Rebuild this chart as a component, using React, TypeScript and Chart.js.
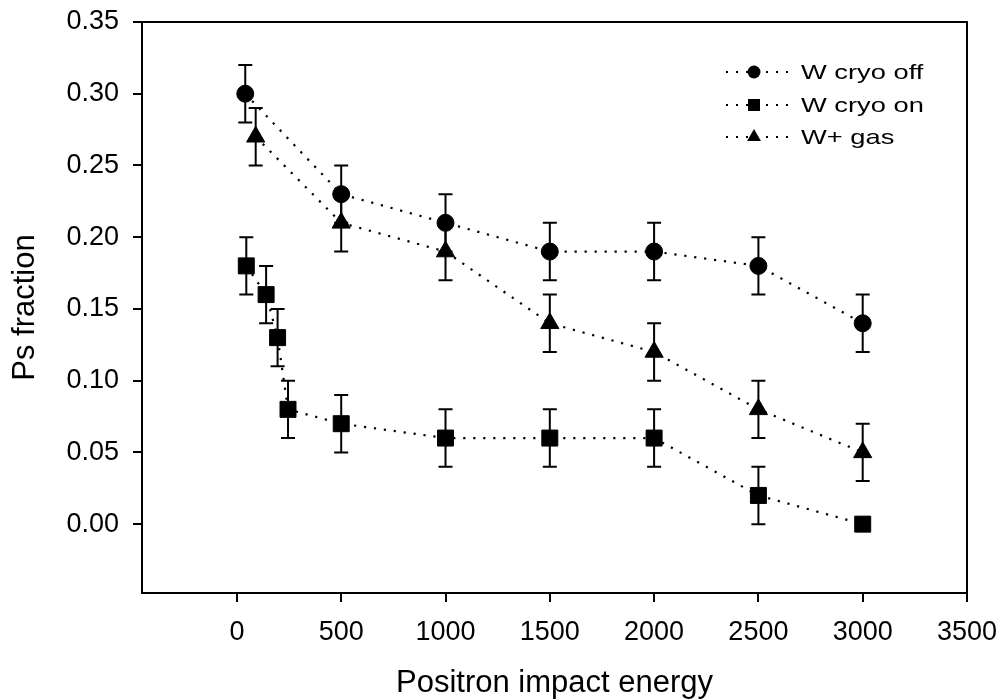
import React, { useEffect, useRef } from "react";
import { Chart, registerables } from "chart.js";

Chart.register(...registerables);

const FONT = '"Liberation Sans", Arial, Helvetica, sans-serif';

// ---- data ----
const seriesNames = ["W cryo off", "W cryo on", "W+ gas"];

const xCryoOff = [40, 500, 1000, 1500, 2000, 2500, 3000];
const yCryoOff = [0.30, 0.23, 0.21, 0.19, 0.19, 0.18, 0.14];
const errCryoOff = [0.02, 0.02, 0.02, 0.02, 0.02, 0.02, 0.02];

const xCryoOn = [45, 140, 195, 245, 500, 1000, 1500, 2000, 2500, 3000];
const yCryoOn = [0.18, 0.16, 0.13, 0.08, 0.07, 0.06, 0.06, 0.06, 0.02, 0.0];
const errCryoOn = [0.02, 0.02, 0.02, 0.02, 0.02, 0.02, 0.02, 0.02, 0.02, 0];

const xGas = [90, 500, 1000, 1500, 2000, 2500, 3000];
const yGas = [0.27, 0.21, 0.19, 0.14, 0.12, 0.08, 0.05];
const errGas = [0.02, 0.02, 0.02, 0.02, 0.02, 0.02, 0.02];

const xTicks = [0, 500, 1000, 1500, 2000, 2500, 3000, 3500];
const yTicks = [0, 0.05, 0.1, 0.15, 0.2, 0.25, 0.3, 0.35];

const xTitle = "Positron impact energy";
const yTitle = "Ps fraction";

const errorsList = [errCryoOff, errCryoOn, errGas];
const styles = [
  { pointStyle: "circle", radius: 8.5, legendRadius: 6.5 },
  { pointStyle: "rect", radius: 11.3, legendRadius: 8.5 },
  { pointStyle: "triangle", radius: 10.5, legendRadius: 8 },
];

function drawMarker(ctx: CanvasRenderingContext2D, style: string, r: number, x: number, y: number) {
  ctx.beginPath();
  if (style === "circle") {
    ctx.arc(x, y, r, 0, Math.PI * 2);
  } else if (style === "rect") {
    const s = r * Math.SQRT1_2;
    ctx.rect(x - s, y - s, 2 * s, 2 * s);
  } else {
    ctx.moveTo(x, y - r);
    ctx.lineTo(x + r * 0.866, y + r * 0.5);
    ctx.lineTo(x - r * 0.866, y + r * 0.5);
    ctx.closePath();
  }
  ctx.fill();
}

const errorBarPlugin = {
  id: "errorBars",
  afterDatasetsDraw(chart: any) {
    const ctx = chart.ctx;
    const xs = chart.scales.x;
    const ys = chart.scales.y;
    ctx.save();
    ctx.strokeStyle = "#000";
    ctx.lineWidth = 2;
    ctx.setLineDash([]);
    chart.data.datasets.forEach((ds: any, di: number) => {
      const errs = errorsList[di];
      ds.data.forEach((p: any, i: number) => {
        const e = errs[i];
        if (!e) return;
        const px = xs.getPixelForValue(p.x);
        const y1 = ys.getPixelForValue(p.y + e);
        const y2 = ys.getPixelForValue(p.y - e);
        ctx.beginPath();
        ctx.moveTo(px, y1);
        ctx.lineTo(px, y2);
        ctx.moveTo(px - 7, y1);
        ctx.lineTo(px + 7, y1);
        ctx.moveTo(px - 7, y2);
        ctx.lineTo(px + 7, y2);
        ctx.stroke();
      });
    });
    ctx.restore();
  },
};

const framePlugin = {
  id: "frameTitlesLegend",
  afterDraw(chart: any) {
    const ctx = chart.ctx;
    const a = chart.chartArea;
    ctx.save();
    ctx.strokeStyle = "#000";
    ctx.lineWidth = 2;
    ctx.beginPath();
    ctx.moveTo(a.left, a.top);
    ctx.lineTo(a.right, a.top);
    ctx.lineTo(a.right, a.bottom);
    ctx.stroke();

    ctx.fillStyle = "#000";
    ctx.font = `31px ${FONT}`;
    ctx.textAlign = "center";
    ctx.textBaseline = "middle";
    ctx.fillText(xTitle, (a.left + a.right) / 2, 683);
    ctx.save();
    ctx.translate(25, (a.top + a.bottom) / 2);
    ctx.rotate(-Math.PI / 2);
    ctx.fillText(yTitle, 0, 0);
    ctx.restore();

    const rowsY = [a.top + 50, a.top + 83, a.top + 115];
    const lx0 = a.right - 241;
    const lx1 = a.right - 178;
    const mx = a.right - 213;
    const tx = a.right - 166;
    seriesNames.forEach((name, i) => {
      const y = rowsY[i];
      ctx.save();
      ctx.strokeStyle = "#000";
      ctx.lineWidth = 2;
      ctx.setLineDash([2, 8]);
      ctx.beginPath();
      ctx.moveTo(lx0, y);
      ctx.lineTo(lx1, y);
      ctx.stroke();
      ctx.restore();
      ctx.save();
      ctx.fillStyle = "#000";
      drawMarker(ctx, styles[i].pointStyle, styles[i].legendRadius, mx, y);
      ctx.restore();
      ctx.save();
      ctx.translate(tx, y);
      ctx.scale(1.3, 1);
      ctx.font = `21px ${FONT}`;
      ctx.textAlign = "left";
      ctx.textBaseline = "middle";
      ctx.fillStyle = "#000";
      ctx.fillText(name, 0, 1);
      ctx.restore();
    });
    ctx.restore();
  },
};

function makeDataset(label: string, xs: number[], ys: number[], i: number) {
  return {
    label,
    data: xs.map((x, k) => ({ x, y: ys[k] })),
    borderColor: "#000",
    backgroundColor: "#000",
    borderWidth: 2.2,
    borderDash: [2.2, 7.8],
    fill: false,
    tension: 0,
    pointStyle: styles[i].pointStyle,
    pointRadius: styles[i].radius,
    pointHoverRadius: styles[i].radius,
    pointBackgroundColor: "#000",
    pointBorderColor: "#000",
    pointBorderWidth: 1,
  };
}

export default function App() {
  const ref = useRef<HTMLCanvasElement | null>(null);
  useEffect(() => {
    if (!ref.current) return;
    const tickFont = { family: FONT, size: 27 };
    const chart = new Chart(ref.current, {
      type: "line",
      data: {
        datasets: [
          makeDataset(seriesNames[0], xCryoOff, yCryoOff, 0),
          makeDataset(seriesNames[1], xCryoOn, yCryoOn, 1),
          makeDataset(seriesNames[2], xGas, yGas, 2),
        ],
      },
      options: {
        responsive: false,
        animation: false,
        events: [],
        layout: { padding: { top: 22, right: 32, left: 0, bottom: 0 } },
        plugins: { legend: { display: false }, tooltip: { enabled: false } },
        scales: {
          x: {
            type: "linear",
            min: -455,
            max: 3500,
            grid: {
              display: true,
              drawOnChartArea: false,
              drawTicks: true,
              tickLength: 9,
              color: "#000",
              lineWidth: 2,
            },
            border: { display: true, color: "#000", width: 2 },
            ticks: {
              font: tickFont,
              color: "#000",
              padding: 14,
              maxRotation: 0,
              autoSkip: false,
              callback: (v: any) => String(v),
            },
            afterBuildTicks: (s: any) => {
              s.ticks = xTicks.map((v) => ({ value: v }));
            },
            afterFit: (s: any) => {
              s.height = 107;
              s.paddingLeft = 0;
              s.paddingRight = 0;
            },
          },
          y: {
            type: "linear",
            min: -0.048,
            max: 0.35,
            grid: {
              display: true,
              drawOnChartArea: false,
              drawTicks: true,
              tickLength: 9,
              color: "#000",
              lineWidth: 2,
            },
            border: { display: true, color: "#000", width: 2 },
            ticks: {
              font: tickFont,
              color: "#000",
              padding: 14,
              autoSkip: false,
              callback: (v: any) => Number(v).toFixed(2),
            },
            afterBuildTicks: (s: any) => {
              s.ticks = yTicks.map((v) => ({ value: v }));
            },
            afterFit: (s: any) => {
              s.width = 142;
              s.paddingTop = 0;
              s.paddingBottom = 0;
            },
          },
        },
      },
      plugins: [errorBarPlugin, framePlugin],
    } as any);
    return () => chart.destroy();
  }, []);
  return (
    <div style={{ position: "absolute", left: 0, top: 0, width: 999, height: 700, background: "#fff" }}>
      <canvas ref={ref} width={999} height={700} style={{ width: 999, height: 700, display: "block" }} />
    </div>
  );
}
